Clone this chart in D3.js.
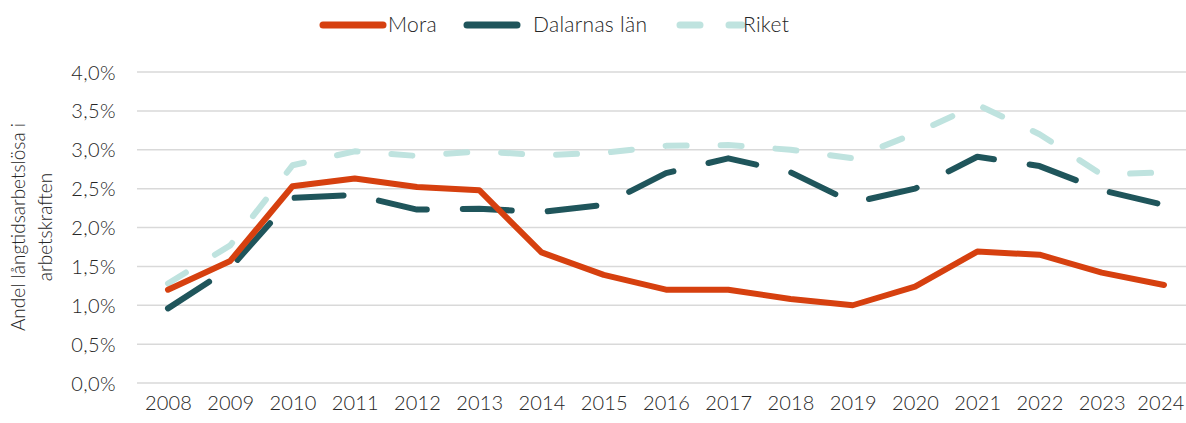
<!DOCTYPE html>
<html>
<head>
<meta charset="utf-8">
<script src="https://cdn.jsdelivr.net/npm/d3@7"></script>
<style>
  body { margin: 0; background: #fff; }
  text { font-family: Lato, "Open Sans", sans-serif; font-weight: 300; fill: #262626; }
</style>
</head>
<body>
<svg id="chart" width="1186" height="423"></svg>
<script>
var years = [2008, 2009, 2010, 2011, 2012, 2013, 2014, 2015, 2016, 2017, 2018, 2019, 2020, 2021, 2022, 2023, 2024]
var mora = [1.20, 1.57, 2.53, 2.63, 2.52, 2.48, 1.68, 1.39, 1.20, 1.20, 1.08, 1.00, 1.24, 1.69, 1.65, 1.42, 1.26]
var dalarna = [0.96, 1.48, 2.38, 2.42, 2.23, 2.24, 2.20, 2.29, 2.70, 2.89, 2.71, 2.32, 2.50, 2.91, 2.79, 2.48, 2.29]
var riket = [1.28, 1.77, 2.80, 2.98, 2.92, 2.98, 2.93, 2.96, 3.05, 3.06, 3.00, 2.89, 3.21, 3.58, 3.20, 2.68, 2.71]
var yTicks = [0, 0.5, 1, 1.5, 2, 2.5, 3, 3.5, 4]
var seriesNames = ["Mora", "Dalarnas län", "Riket"]

var colors = ["#D6400F", "#1F555B", "#BFE3DF"]
var dashes = [null, "49,36", "21,34"]

var svg = d3.select("#chart")

var x = d3.scalePoint().domain(years).range([168, 1164])
var y = d3.scaleLinear().domain([0, 4]).range([383, 72])

// gridlines
svg.append("g").selectAll("line").data(yTicks).enter().append("line")
  .attr("x1", 137).attr("x2", 1186)
  .attr("y1", d => y(d)).attr("y2", d => y(d))
  .attr("stroke", "#d9d9d9").attr("stroke-width", 1.5)

var fmt = d => d.toFixed(1).replace(".", ",") + "%"

var yAxis = svg.append("g")
  .attr("transform", "translate(116,0)")
  .call(d3.axisLeft(y).tickValues(yTicks).tickFormat(fmt).tickSize(0).tickPadding(0))
yAxis.select(".domain").remove()
yAxis.selectAll("text").style("font-size", "20px").style("letter-spacing", "0.4px").attr("dy", "0.35em")

var xAxis = svg.append("g")
  .attr("transform", "translate(0,396)")
  .call(d3.axisBottom(x).tickSize(0).tickPadding(0).tickFormat(d3.format("d")))
xAxis.select(".domain").remove()
xAxis.selectAll("text").style("font-size", "20px").style("letter-spacing", "0.2px").attr("dy", "0.71em")
// keep the last year label inside the frame
xAxis.selectAll("text").each(function() {
  var b = this.getBBox()
  var right = x(+this.textContent) + b.x + b.width
  if (right > 1184) d3.select(this).attr("x", 1184 - right)
})

// y title
var yt = svg.append("text")
  .attr("transform", "translate(31,227) rotate(-90)")
  .attr("text-anchor", "middle")
  .style("font-size", "19px")
yt.append("tspan").attr("x", 0).attr("dy", "-0.3em").text("Andel långtidsarbetslösa i")
yt.append("tspan").attr("x", 0).attr("dy", "1.4em").text("arbetskraften")

var line = d3.line().x((d, i) => x(years[i])).y(d => y(d))

var allSeries = [riket, dalarna, mora]
var order = [2, 1, 0]
allSeries.forEach(function(s, k) {
  var idx = order[k]
  svg.append("path")
    .datum(s)
    .attr("d", line)
    .attr("fill", "none")
    .attr("stroke", colors[idx])
    .attr("stroke-width", 6)
    .attr("stroke-linecap", "round")
    .attr("stroke-linejoin", "round")
    .attr("stroke-dasharray", dashes[idx])
})

// legend
var legendX = [323, 467, 680]
var legendLen = [60, 50, 62]
var legendTextX = [388, 533, 743]
var legend = svg.append("g")
seriesNames.forEach(function(name, i) {
  legend.append("line")
    .attr("x1", legendX[i]).attr("x2", legendX[i] + legendLen[i])
    .attr("y1", 25).attr("y2", 25)
    .attr("stroke", colors[i]).attr("stroke-width", 7)
    .attr("stroke-linecap", "round")
    .attr("stroke-dasharray", i == 2 ? "20,29" : null)
  legend.append("text")
    .attr("x", legendTextX[i]).attr("y", 25).attr("dy", "0.35em")
    .style("font-size", "21px")
    .style("letter-spacing", "0.3px")
    .text(name)
})
</script>
</body>
</html>
